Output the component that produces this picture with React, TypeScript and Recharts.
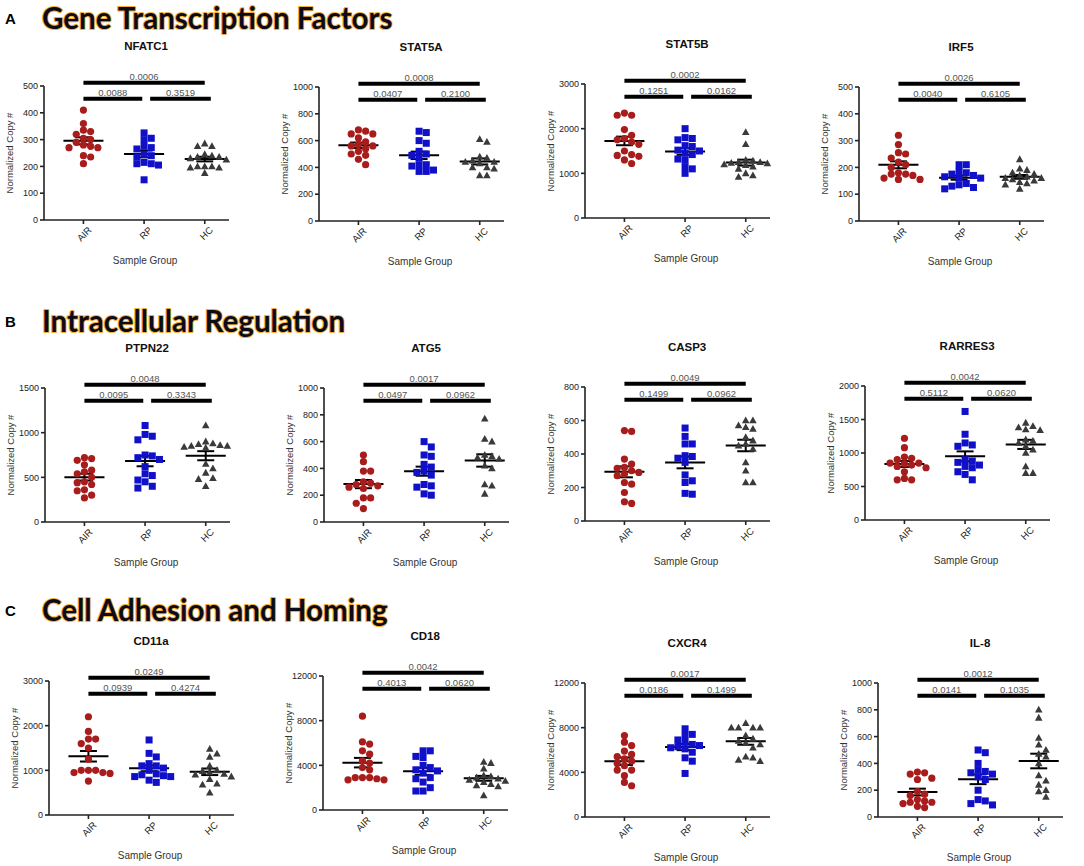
import React from "react";
import { ScatterChart, Scatter, XAxis, YAxis, ReferenceLine } from "recharts";

// groups on the x axis
const GROUPS = ["AIR", "RP", "HC"];

// values (normalized copy #), p-values as [AIR-HC, AIR-RP, RP-HC]
const nfatc1Air = [410, 360, 335, 330, 320, 305, 300, 290, 280, 275, 270, 270, 240, 235, 210];
const nfatc1Rp = [325, 305, 300, 275, 270, 265, 245, 240, 235, 215, 210, 210, 205, 150];
const nfatc1Hc = [285, 275, 275, 245, 240, 235, 235, 230, 225, 200, 200, 195, 195, 200, 175];
const nfatc1P = ["0.0006", "0.0088", "0.3519"];
const nfatc1Ticks = [0, 100, 200, 300, 400, 500];

const stat5aAir = [680, 670, 650, 650, 620, 590, 570, 560, 560, 540, 520, 500, 490, 460, 420];
const stat5aRp = [670, 660, 600, 580, 520, 500, 490, 470, 420, 420, 410, 380, 370, 370];
const stat5aHc = [610, 590, 480, 470, 450, 440, 440, 430, 400, 400, 390, 340, 340];
const stat5aP = ["0.0008", "0.0407", "0.2100"];
const stat5aTicks = [0, 200, 400, 600, 800, 1000];

const stat5bAir = [2350, 2300, 2300, 1980, 1850, 1780, 1750, 1700, 1650, 1500, 1420, 1400, 1380, 1300, 1220];
const stat5bRp = [2000, 1800, 1780, 1750, 1620, 1600, 1520, 1500, 1450, 1420, 1320, 1300, 1150, 1100, 1000];
const stat5bHc = [1920, 1650, 1300, 1280, 1250, 1250, 1230, 1220, 1200, 1180, 1150, 1100, 1000, 950, 920];
const stat5bP = ["0.0002", "0.1251", "0.0162"];
const stat5bTicks = [0, 1000, 2000, 3000];

const irf5Air = [320, 285, 255, 250, 235, 220, 210, 200, 180, 175, 175, 170, 160, 155, 155];
const irf5Rp = [210, 210, 185, 180, 175, 170, 165, 160, 160, 140, 135, 130, 125, 120];
const irf5Hc = [230, 195, 190, 180, 175, 170, 165, 160, 160, 155, 150, 145, 140, 135, 120];
const irf5P = ["0.0026", "0.0040", "0.6105"];
const irf5Ticks = [0, 100, 200, 300, 400, 500];

const ptpn22Air = [720, 710, 690, 640, 580, 560, 540, 500, 450, 440, 420, 360, 350, 300, 270];
const ptpn22Rp = [1080, 980, 960, 920, 750, 740, 720, 700, 620, 540, 520, 470, 450, 400, 380];
const ptpn22Hc = [1080, 900, 880, 870, 860, 850, 850, 840, 830, 650, 600, 550, 490, 480, 400];
const ptpn22P = ["0.0048", "0.0095", "0.3343"];
const ptpn22Ticks = [0, 500, 1000, 1500];

const atg5Air = [500, 450, 380, 380, 300, 290, 280, 270, 260, 250, 180, 180, 140, 100];
const atg5Rp = [600, 560, 500, 490, 430, 410, 380, 370, 350, 280, 270, 260, 210, 200];
const atg5Hc = [770, 620, 600, 500, 490, 480, 470, 420, 400, 280, 270, 210];
const atg5P = ["0.0017", "0.0497", "0.0962"];
const atg5Ticks = [0, 200, 400, 600, 800, 1000];

const casp3Air = [540, 535, 370, 340, 320, 315, 300, 290, 280, 270, 230, 220, 170, 115, 105];
const casp3Rp = [555, 505, 460, 460, 390, 385, 375, 350, 275, 240, 230, 165, 160];
const casp3Hc = [600, 600, 570, 560, 550, 500, 480, 460, 450, 430, 350, 300, 230, 230];
const casp3P = ["0.0049", "0.1499", "0.0962"];
const casp3Ticks = [0, 200, 400, 600, 800];

const rarres3Air = [1220, 1080, 940, 920, 900, 850, 850, 840, 820, 800, 780, 720, 620, 600, 600];
const rarres3Rp = [1620, 1280, 1150, 1120, 1100, 900, 880, 860, 820, 800, 780, 720, 680, 600];
const rarres3Hc = [1450, 1400, 1380, 1350, 1340, 1200, 1180, 1150, 1100, 1050, 1000, 800, 700, 700];
const rarres3P = ["0.0042", "0.5112", "0.0620"];
const rarres3Ticks = [0, 500, 1000, 1500, 2000];

const cd11aAir = [2200, 1870, 1700, 1700, 1600, 1500, 1250, 1000, 1000, 950, 950, 930, 1000, 760];
const cd11aRp = [1680, 1380, 1300, 1150, 1100, 1100, 1050, 1000, 920, 900, 880, 860, 860, 780, 730];
const cd11aHc = [1480, 1370, 1300, 1100, 1000, 980, 950, 920, 900, 860, 800, 700, 680, 500];
const cd11aP = ["0.0249", "0.0939", "0.4274"];
const cd11aTicks = [0, 1000, 2000, 3000];

const cd18Air = [8400, 6100, 5900, 5300, 5000, 4400, 4200, 3800, 3600, 2900, 2900, 2800, 2700, 2700, 2900];
const cd18Rp = [5300, 5300, 4800, 4700, 4000, 3800, 3600, 3500, 3300, 2900, 2800, 2500, 2000, 1700, 1700];
const cd18Hc = [4300, 4200, 3700, 3100, 3000, 2900, 2800, 2700, 2600, 2500, 2300, 2200, 2100, 1300];
const cd18P = ["0.0042", "0.4013", "0.0620"];
const cd18Ticks = [0, 4000, 8000, 12000];

const cxcr4Air = [7300, 6700, 6400, 5900, 5600, 5400, 5200, 5000, 4800, 4600, 4200, 4200, 3700, 3100, 2800];
const cxcr4Rp = [7900, 7400, 7300, 6900, 6700, 6500, 6400, 6300, 6200, 6100, 5800, 5300, 5000, 3900];
const cxcr4Hc = [8400, 8000, 8000, 8000, 8000, 7300, 7000, 6800, 6600, 6500, 6200, 5400, 5300, 5100, 5000];
const cxcr4P = ["0.0017", "0.0186", "0.1499"];
const cxcr4Ticks = [0, 4000, 8000, 12000];

const il8Air = [335, 330, 320, 290, 280, 190, 170, 160, 130, 120, 110, 110, 100, 80, 70];
const il8Rp = [500, 480, 400, 350, 340, 330, 320, 300, 280, 200, 130, 120, 100, 90];
const il8Hc = [800, 740, 590, 540, 500, 470, 450, 400, 310, 270, 240, 200, 190, 150];
const il8P = ["0.0012", "0.0141", "0.1035"];
const il8Ticks = [0, 200, 400, 600, 800, 1000];

const FONT = '"Liberation Sans", Arial, sans-serif';
const COLORS = ["#a81c1c", "#1010c8", "#3a3a3a"];

const PLOT_W = 185;
const PLOT_H = 134;
const X_DOMAIN = [0.35, 3.4];
const LEFT = 55;
const TOP = 50;
const BOTTOM = 70;
const PX_PER_X = PLOT_W / (X_DOMAIN[1] - X_DOMAIN[0]);

// spread points sideways so they don't pile up (like a dot plot)
function swarm(values: number[], center: number, ymax: number) {
  const pyPer = PLOT_H / ymax;
  const order = values.map((_, i) => i).sort((a, b) => values[b] - values[a]);
  const placed: { px: number; py: number }[] = [];
  const out: { x: number; y: number }[] = [];
  const step = 7.2;
  const minD = 6.6;
  for (const i of order) {
    const v = values[i];
    const py = v * pyPer;
    let chosen = 0;
    let bestGap = -1;
    for (let k = 0; k < 7; k++) {
      const off = k === 0 ? 0 : (k % 2 ? 1 : -1) * Math.ceil(k / 2) * step;
      const gap = placed.length
        ? Math.min(...placed.map((p) => Math.hypot(p.px - off, p.py - py)))
        : 99;
      if (gap >= minD) {
        chosen = off;
        bestGap = gap;
        break;
      }
      if (gap > bestGap) {
        bestGap = gap;
        chosen = off;
      }
    }
    placed.push({ px: chosen, py });
    out.push({ x: center + chosen / PX_PER_X, y: v });
  }
  return out;
}

function meanSem(values: number[]) {
  const n = values.length;
  const m = values.reduce((a, b) => a + b, 0) / n;
  const sd = Math.sqrt(values.reduce((a, b) => a + (b - m) ** 2, 0) / (n - 1));
  return { m, s: sd / Math.sqrt(n) };
}

const shapes = [
  (p: any) => <circle cx={p.cx} cy={p.cy} r={3.6} fill={COLORS[0]} />,
  (p: any) => <rect x={p.cx - 3.5} y={p.cy - 3.5} width={7} height={7} fill={COLORS[1]} />,
  (p: any) => (
    <path d={`M${p.cx},${p.cy - 4} L${p.cx + 3.8},${p.cy + 2.8} L${p.cx - 3.8},${p.cy + 2.8} Z`} fill={COLORS[2]} />
  ),
];

function seg(x1: number, x2: number, y: number) {
  return [
    { x: x1, y },
    { x: x2, y },
  ];
}

function Panel({ gene, ax, top, ymax, ticks, groups, p }: any) {
  const w = LEFT + PLOT_W + 8;
  const h = TOP + PLOT_H + BOTTOM;
  const rpX = LEFT + (2 - X_DOMAIN[0]) * PX_PER_X;
  const lines: any[] = [];
  groups.forEach((vals: number[], gi: number) => {
    const c = gi + 1;
    const { m, s } = meanSem(vals);
    lines.push(seg(c - 0.33, c + 0.33, m));
    lines.push([{ x: c, y: m - s }, { x: c, y: m + s }]);
    lines.push(seg(c - 0.14, c + 0.14, m - s));
    lines.push(seg(c - 0.14, c + 0.14, m + s));
  });
  const brackets = [
    { s: seg(1, 3, ymax * 1.025), t: p[0] },
    { s: seg(1, 1.97, ymax * 0.905), t: p[1] },
    { s: seg(2.1, 3.1, ymax * 0.905), t: p[2] },
  ];
  return (
    <div style={{ position: "absolute", left: ax - LEFT, top: top - TOP, width: w, height: h }}>
      <ScatterChart width={w} height={h} margin={{ top: TOP, right: 8, bottom: 0, left: 0 }}>
        <XAxis
          type="number"
          dataKey="x"
          domain={X_DOMAIN}
          ticks={[1, 2, 3]}
          height={BOTTOM}
          tickFormatter={(v: number) => GROUPS[v - 1]}
          angle={-45}
          textAnchor="end"
          tick={{ fontSize: 9.5, fill: "#222", fontFamily: FONT, dx: 4 }}
          tickSize={4}
          tickMargin={2}
          stroke="#222"
          strokeWidth={1.6}
          label={{
            content: () => (
              <text
                x={rpX + 1}
                y={TOP + PLOT_H + 44}
                textAnchor="middle"
                fontSize={10}
                fill="#333"
                fontFamily={FONT}
              >
                Sample Group
              </text>
            ),
          }}
        />
        <YAxis
          type="number"
          dataKey="y"
          domain={[0, ymax]}
          ticks={ticks}
          width={LEFT}
          tickSize={4}
          tickMargin={2}
          stroke="#222"
          strokeWidth={1.6}
          tick={{ fontSize: 9, fill: "#222", fontFamily: FONT }}
          label={{
            content: () => (
              <text
                x={LEFT - 34}
                y={TOP + PLOT_H / 2}
                transform={`rotate(-90 ${LEFT - 34} ${TOP + PLOT_H / 2})`}
                textAnchor="middle"
                dy="0.35em"
                fontSize={9.5}
                fill="#333"
                fontFamily={FONT}
              >
                Normalized Copy #
              </text>
            ),
          }}
        />
        {groups.map((vals: number[], gi: number) => (
          <Scatter
            key={GROUPS[gi]}
            name={GROUPS[gi]}
            data={swarm(vals, gi + 1, ymax)}
            shape={shapes[gi]}
            isAnimationActive={false}
          />
        ))}
        {lines.map((sg, i) => (
          <ReferenceLine key={"m" + i} segment={sg} stroke="#000" strokeWidth={2} ifOverflow="visible" />
        ))}
        {brackets.map((b, i) => (
          <ReferenceLine
            key={"b" + i}
            segment={b.s}
            stroke="#000"
            strokeWidth={4}
            ifOverflow="visible"
            label={{ value: b.t, position: "top", offset: 3, fontSize: 9.5, fill: "#555", fontFamily: FONT }}
          />
        ))}
      </ScatterChart>
      <div
        style={{
          position: "absolute",
          left: rpX + 2 - 60,
          width: 120,
          top: TOP - 39 - 7,
          textAlign: "center",
          font: `bold 11.5px ${FONT}`,
          color: "#111",
        }}
      >
        {gene}
      </div>
    </div>
  );
}

const PANELS = [
  { gene: "NFATC1", ax: 44, top: 86, ymax: 500, ticks: nfatc1Ticks, groups: [nfatc1Air, nfatc1Rp, nfatc1Hc], p: nfatc1P },
  { gene: "STAT5A", ax: 319, top: 87, ymax: 1000, ticks: stat5aTicks, groups: [stat5aAir, stat5aRp, stat5aHc], p: stat5aP },
  { gene: "STAT5B", ax: 585, top: 84, ymax: 3000, ticks: stat5bTicks, groups: [stat5bAir, stat5bRp, stat5bHc], p: stat5bP },
  { gene: "IRF5", ax: 859, top: 87, ymax: 500, ticks: irf5Ticks, groups: [irf5Air, irf5Rp, irf5Hc], p: irf5P },
  { gene: "PTPN22", ax: 45, top: 388, ymax: 1500, ticks: ptpn22Ticks, groups: [ptpn22Air, ptpn22Rp, ptpn22Hc], p: ptpn22P },
  { gene: "ATG5", ax: 324, top: 388, ymax: 1000, ticks: atg5Ticks, groups: [atg5Air, atg5Rp, atg5Hc], p: atg5P },
  { gene: "CASP3", ax: 585, top: 387, ymax: 800, ticks: casp3Ticks, groups: [casp3Air, casp3Rp, casp3Hc], p: casp3P },
  { gene: "RARRES3", ax: 865, top: 386, ymax: 2000, ticks: rarres3Ticks, groups: [rarres3Air, rarres3Rp, rarres3Hc], p: rarres3P },
  { gene: "CD11a", ax: 49, top: 681, ymax: 3000, ticks: cd11aTicks, groups: [cd11aAir, cd11aRp, cd11aHc], p: cd11aP },
  { gene: "CD18", ax: 323, top: 676, ymax: 12000, ticks: cd18Ticks, groups: [cd18Air, cd18Rp, cd18Hc], p: cd18P },
  { gene: "CXCR4", ax: 585, top: 683, ymax: 12000, ticks: cxcr4Ticks, groups: [cxcr4Air, cxcr4Rp, cxcr4Hc], p: cxcr4P },
  { gene: "IL-8", ax: 878, top: 683, ymax: 1000, ticks: il8Ticks, groups: [il8Air, il8Rp, il8Hc], p: il8P },
];

const SECTIONS = [
  { letter: "A", title: "Gene Transcription Factors", y: 29 },
  { letter: "B", title: "Intracellular Regulation", y: 332 },
  { letter: "C", title: "Cell Adhesion and Homing", y: 621 },
];

export default function App() {
  return (
    <div style={{ position: "absolute", left: 0, top: 0, width: 1084, height: 866, background: "#fff", overflow: "hidden" }}>
      <svg width={1084} height={866} style={{ position: "absolute", left: 0, top: 0 }}>
        {SECTIONS.map((s) => (
          <g key={s.letter}>
            <text x={5} y={s.y - 5} fontSize={15} fontWeight="bold" fontFamily={FONT} fill="#000">
              {s.letter}
            </text>
            <text
              x={42}
              y={s.y}
              fontSize={29.5}
              fontWeight="bold"
              fontFamily="Lato, sans-serif"
              fill="#0b0b1a"
              stroke="#f5ae3a"
              strokeWidth={2}
              strokeLinejoin="round"
              style={{ paintOrder: "stroke" }}
            >
              {s.title}
            </text>
          </g>
        ))}
      </svg>
      {PANELS.map((pn) => (
        <Panel key={pn.gene} {...pn} />
      ))}
    </div>
  );
}
